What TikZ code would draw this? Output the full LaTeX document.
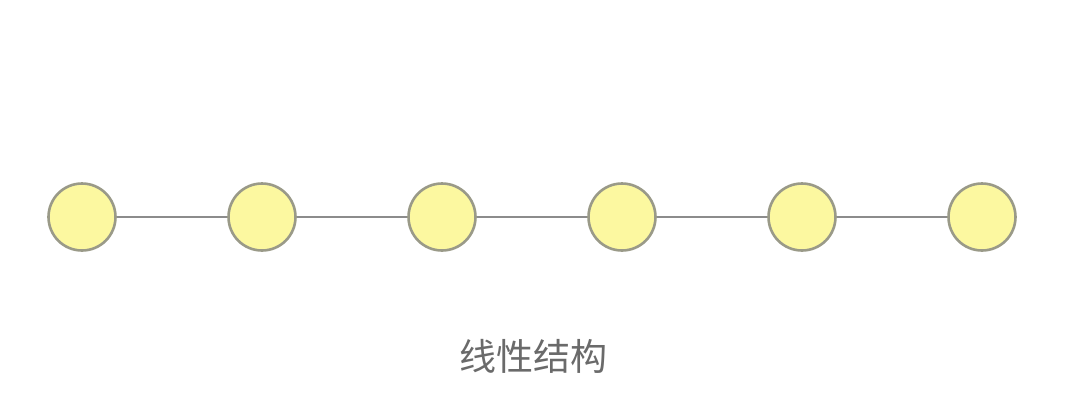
\documentclass[tikz,border=0pt]{standalone}
\usepackage{fontspec}
\newfontfamily\cjk{Noto Sans CJK SC}
\definecolor{nodefill}{HTML}{FCF8A0}
\definecolor{nodeedge}{HTML}{9A9A88}
\definecolor{linkcol}{HTML}{8C8C8C}
\definecolor{textcol}{HTML}{6A6A6A}
\begin{document}
\begin{tikzpicture}[x=1pt,y=-1pt,
  vert/.style={circle,draw=nodeedge,fill=nodefill,line width=2.6pt,minimum size=67pt,inner sep=0pt},
  link/.style={draw=linkcol,line width=2.4pt}]
\useasboundingbox[fill=white] (0,0) rectangle (1080,405);
\foreach \i/\x in {1/82,2/262,3/442,4/622,5/802,6/982}{
  \node[vert] (n\i) at (\x,217) {};
}
\foreach \a/\b in {1/2,2/3,3/4,4/5,5/6}{
  \draw[link] (n\a) -- (n\b);
}
\node[text=textcol,font=\cjk\fontsize{37}{42}\selectfont,inner sep=0pt] (label) at (533,356) {线性结构};
\end{tikzpicture}
\end{document}
